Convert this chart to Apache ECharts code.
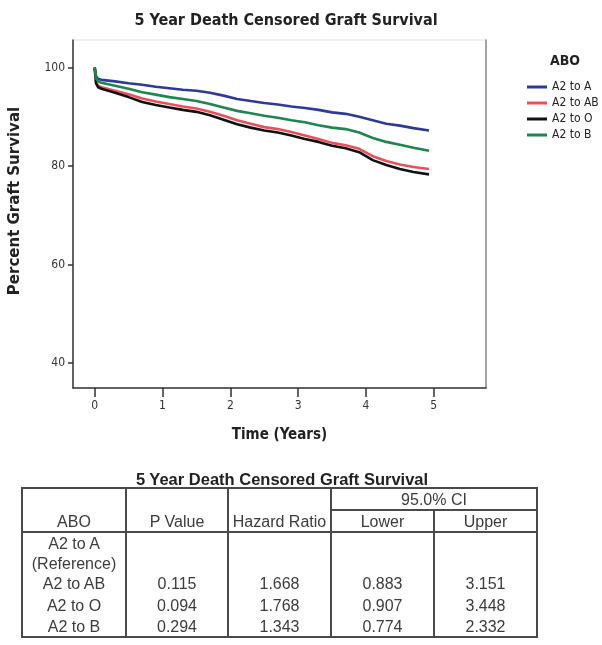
<!DOCTYPE html>
<html>
<head>
<meta charset="utf-8">
<script src="https://cdn.jsdelivr.net/npm/echarts@6/dist/echarts.min.js"></script>
<style>
  html, body { margin: 0; padding: 0; background: #fff; }
  #wrap { position: relative; width: 602px; height: 645px; }
  #chart { position: absolute; left: 0; top: 0; width: 602px; height: 645px; }
  #table { position: absolute; left: 0; top: 0; width: 602px; height: 645px; pointer-events: none; }
  .t { position: absolute; transform: translate(-50%, -50%); white-space: nowrap;
       font-family: "Liberation Sans", Arial, sans-serif; font-size: 16px; color: #3c3c3c; line-height: 18px; }
  .ln { position: absolute; background: #4a4a4a; }
</style>
</head>
<body>
<div id="wrap">
  <div id="chart"></div>
  <div id="table"></div>
</div>
<script>
// ---------- DATA ----------
const chartTitle = '5 Year Death Censored Graft Survival';
const legendTitle = 'ABO';
const seriesNames = ['A2 to A', 'A2 to AB', 'A2 to O', 'A2 to B'];
const xTicks = [0, 1, 2, 3, 4, 5];
const yTicks = [40, 60, 80, 100];

const times = [0, 0.02, 0.05, 0.1, 0.3, 0.5, 0.7, 0.9, 1.1, 1.3, 1.5, 1.7, 1.9, 2.1,
               2.3, 2.5, 2.7, 2.9, 3.1, 3.3, 3.5, 3.7, 3.9, 4.1, 4.3, 4.5, 4.7, 4.93];
const survA  = [100, 98.2, 97.7, 97.5, 97.2, 96.8, 96.5, 96.1, 95.8, 95.5, 95.3, 94.9, 94.3, 93.6,
                93.2, 92.8, 92.5, 92.1, 91.8, 91.4, 90.9, 90.6, 90.0, 89.3, 88.6, 88.2, 87.7, 87.2];
const survAB = [100, 97.0, 96.3, 96.0, 95.3, 94.6, 93.7, 93.1, 92.6, 92.1, 91.7, 91.0, 90.2, 89.3,
                88.6, 87.9, 87.5, 86.9, 86.2, 85.5, 84.7, 84.2, 83.5, 82.0, 81.0, 80.3, 79.8, 79.4];
const survO  = [100, 96.8, 96.0, 95.7, 94.9, 94.0, 93.0, 92.4, 91.9, 91.4, 91.0, 90.3, 89.4, 88.5,
                87.8, 87.2, 86.8, 86.2, 85.5, 84.9, 84.1, 83.6, 82.8, 81.2, 80.2, 79.4, 78.8, 78.3];
const survB  = [100, 97.8, 97.2, 96.9, 96.3, 95.7, 95.0, 94.5, 94.0, 93.6, 93.2, 92.6, 91.9, 91.2,
                90.7, 90.2, 89.8, 89.3, 88.9, 88.3, 87.8, 87.5, 86.8, 85.7, 84.9, 84.3, 83.7, 83.1];

const tableTitle = '5 Year Death Censored Graft Survival';
const tableHeaders = ['ABO', 'P Value', 'Hazard Ratio', 'Lower', 'Upper'];
const ciHeader = '95.0% CI';
const rowLabels = ['A2 to A', '(Reference)', 'A2 to AB', 'A2 to O', 'A2 to B'];
const pValues = ['', '', '0.115', '0.094', '0.294'];
const hazardRatios = ['', '', '1.668', '1.768', '1.343'];
const ciLower = ['', '', '0.883', '0.907', '0.774'];
const ciUpper = ['', '', '3.151', '3.448', '2.332'];

// ---------- CHART ----------
const F = '"DejaVu Sans Condensed", "Liberation Sans Narrow", sans-serif';
const colors = ['#2e3a96', '#e8505a', '#111111', '#1e8650'];
const allVals = [survA, survAB, survO, survB];

const chart = echarts.init(document.getElementById('chart'), null, { renderer: 'canvas' });
chart.setOption({
  animation: false,
  backgroundColor: '#ffffff',
  title: [
    { text: chartTitle, left: 281, top: 8, textAlign: 'center',
      textStyle: { fontFamily: F, fontSize: 16, fontWeight: 'bold', color: '#222' } },
    { text: legendTitle, left: 560, top: 49, textAlign: 'center',
      textStyle: { fontFamily: F, fontSize: 14, fontWeight: 'bold', color: '#222' } }
  ],
  legend: {
    orient: 'vertical', left: 522, top: 75, itemWidth: 20, itemHeight: 3, itemGap: 2,
    icon: 'rect', data: seriesNames,
    textStyle: { fontFamily: F, fontSize: 12, color: '#222', lineHeight: 14 }
  },
  grid: { left: 73, top: 40, width: 413, height: 348, show: true, borderColor: '#e2e2e2', borderWidth: 1 },
  xAxis: {
    type: 'value', min: -0.32, max: 5.77,
    axisLine: { onZero: false, lineStyle: { color: '#333', width: 1.5 } },
    axisTick: { customValues: xTicks, length: 9, lineStyle: { color: '#333', width: 1.5 } },
    axisLabel: { customValues: xTicks, margin: 12, fontFamily: F, fontSize: 12, color: '#333' },
    splitLine: { show: false },
    name: 'Time (Years)', nameLocation: 'middle', nameGap: 40,
    nameTextStyle: { fontFamily: F, fontSize: 15, fontWeight: 'bold', color: '#222' }
  },
  yAxis: [
    {
      type: 'value', min: 34.9, max: 105.6,
      axisLine: { show: true, onZero: false, lineStyle: { color: '#333', width: 1.5 } },
      axisTick: { show: true, customValues: yTicks, length: 5, lineStyle: { color: '#333', width: 1.5 } },
      axisLabel: { customValues: yTicks, margin: 8, fontFamily: F, fontSize: 12, color: '#333' },
      splitLine: { show: false },
      name: 'Percent Graft Survival', nameLocation: 'middle', nameGap: 50, nameRotate: 90,
      nameTextStyle: { fontFamily: '"DejaVu Sans", sans-serif', fontSize: 15, fontWeight: 'bold', color: '#222',
                       padding: [0, 0, 0, 26] }
    },
    {
      type: 'value', min: 34.9, max: 105.6, position: 'right',
      axisLine: { show: true, onZero: false, lineStyle: { color: '#888', width: 1.5 } },
      axisTick: { show: false }, axisLabel: { show: false }, splitLine: { show: false }
    }
  ],
  series: seriesNames.map((name, k) => ({
    name, type: 'line', symbol: 'none', yAxisIndex: 0,
    color: colors[k],
    lineStyle: { color: colors[k], width: 2.6 },
    data: times.map((t, i) => [t, allVals[k][i]])
  }))
});

// ---------- TABLE ----------
const tbl = document.getElementById('table');
function txt(s, cx, cy, extra) {
  if (!s) return;
  const d = document.createElement('div');
  d.className = 't';
  d.textContent = s;
  d.style.left = cx + 'px';
  d.style.top = cy + 'px';
  if (extra) Object.assign(d.style, extra);
  tbl.appendChild(d);
}
function line(x, y, w, h) {
  const d = document.createElement('div');
  d.className = 'ln';
  d.style.left = x + 'px'; d.style.top = y + 'px';
  d.style.width = w + 'px'; d.style.height = h + 'px';
  tbl.appendChild(d);
}
const colX = [22, 126, 228, 331, 434, 537];
const yTop = 488, yCi = 510, yHead = 532, yBot = 637;
txt(tableTitle, 282, 479, { fontWeight: 'bold', fontSize: '16.5px', color: '#222' });
line(colX[0] - 1, yTop - 1, colX[5] - colX[0] + 2, 2);
line(colX[3], yCi - 1, colX[5] - colX[3], 2);
line(colX[0] - 1, yHead - 1, colX[5] - colX[0] + 2, 2);
line(colX[0] - 1, yBot - 1, colX[5] - colX[0] + 2, 2);
colX.forEach((x, i) => {
  const y0 = (i === 4) ? yCi : yTop;
  line(x - 1, y0, 2, yBot - y0);
});
const mids = colX.slice(0, 5).map((x, i) => (x + colX[i + 1]) / 2);
txt(ciHeader, (colX[3] + colX[5]) / 2, 500);
tableHeaders.forEach((h, i) => txt(h, mids[i], 522));
const rowY = [544, 564, 584, 606, 627];
const cols = [rowLabels, pValues, hazardRatios, ciLower, ciUpper];
cols.forEach((c, i) => c.forEach((v, r) => txt(v, mids[i], rowY[r])));
</script>
</body>
</html>
